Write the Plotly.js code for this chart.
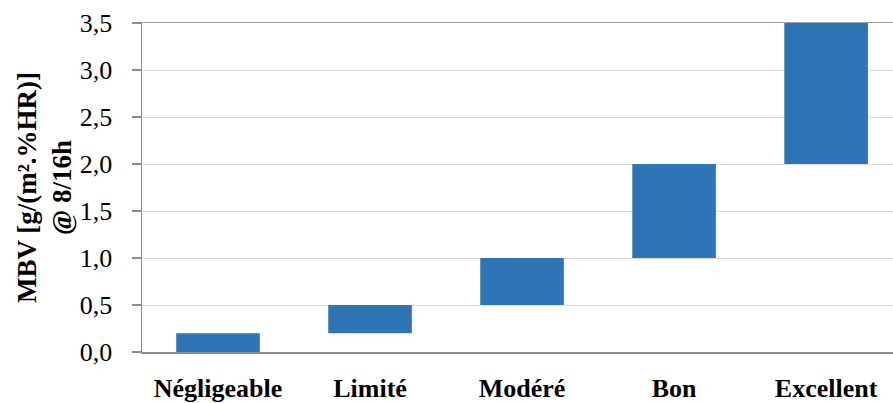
<!DOCTYPE html>
<html><head><meta charset="utf-8">
<script src="https://cdn.plot.ly/plotly-3.0.1.min.js"></script>
<style>html,body{margin:0;padding:0;background:#fff;}#chart{width:893px;height:403px;}</style>
</head><body><div id="chart"></div>
<script>
const categories = ["Négligeable", "Limité", "Modéré", "Bon", "Excellent"];
const lowerBounds = [0.0, 0.2, 0.5, 1.0, 2.0];
const upperBounds = [0.2, 0.5, 1.0, 2.0, 3.5];
const yTickValues = [0, 0.5, 1, 1.5, 2, 2.5, 3, 3.5];

const heights = upperBounds.map((u, i) => u - lowerBounds[i]);
const serif = "Liberation Serif, Times New Roman, serif";

const trace = {
  type: "bar",
  x: categories,
  y: heights,
  base: lowerBounds,
  width: 0.55,
  marker: {color: "#2e75b6"},
  hoverinfo: "skip"
};

const layout = {
  width: 893, height: 403,
  margin: {l: 142, r: 0, t: 23, b: 51},
  paper_bgcolor: "#fff", plot_bgcolor: "#fff",
  separators: ", ",
  showlegend: false,
  font: {family: serif, color: "#000"},
  xaxis: {
    type: "category",
    range: [-0.5, 4.44],
    showline: true, linecolor: "#8c8c8c", linewidth: 1.5,
    ticks: "", showgrid: false,
    ticklabelstandoff: 12,
    tickfont: {family: serif, size: 26, color: "#000", weight: "bold"},
    fixedrange: true
  },
  xaxis2: {
    overlaying: "x", side: "top", matches: "x",
    showline: true, linecolor: "#a0a0a0", linewidth: 1.5,
    showticklabels: false, ticks: "", showgrid: false
  },
  yaxis: {
    range: [0, 3.5],
    tickvals: yTickValues,
    tickformat: ".1f",
    showline: true, linecolor: "#8c8c8c", linewidth: 1.5,
    ticks: "outside", ticklen: 9, tickcolor: "#8c8c8c", tickwidth: 1.5,
    ticklabelstandoff: 14,
    showgrid: true, gridcolor: "#dcdcdc", gridwidth: 1,
    zeroline: false,
    tickfont: {family: serif, size: 26, color: "#000"},
    title: {text: "MBV [g/(m².%HR)]<br>@ 8/16h", font: {family: serif, size: 27, color: "#000", weight: "bold"}, standoff: 0},
    fixedrange: true
  }
};

const trace2 = {type: "scatter", x: [categories[0]], y: [null], xaxis: "x2", yaxis: "y", hoverinfo: "skip", showlegend: false};

Plotly.newPlot("chart", [trace, trace2], layout, {displayModeBar: false, staticPlot: true});
</script></body></html>
